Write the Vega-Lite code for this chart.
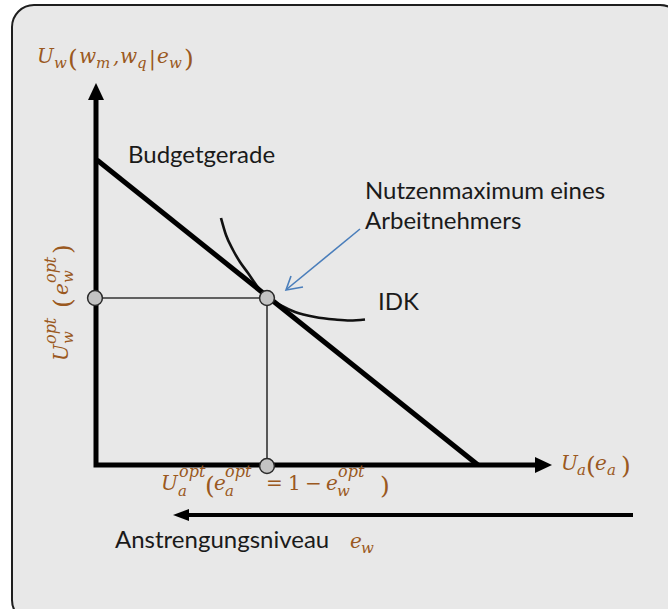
{
  "$schema": "https://vega.github.io/schema/vega-lite/v6.json",
  "width": 668,
  "height": 609,
  "autosize": {"type": "none"},
  "padding": 0,
  "background": "white",
  "config": {"view": {"stroke": null}},
  "datasets": {
    "frame": [{"x": 12, "y": 5, "x2": 682, "y2": 622}],
    "thick": [
      {"id": "axes", "o": 0, "x": 96, "y": 98},
      {"id": "axes", "o": 1, "x": 96, "y": 465},
      {"id": "axes", "o": 2, "x": 538, "y": 465},
      {"id": "budget", "o": 0, "x": 97, "y": 160},
      {"id": "budget", "o": 1, "x": 478, "y": 465}
    ],
    "effort": [
      {"id": "e", "o": 0, "x": 633, "y": 515},
      {"id": "e", "o": 1, "x": 186, "y": 515}
    ],
    "guides": [
      {"id": "g", "o": 0, "x": 96, "y": 298},
      {"id": "g", "o": 1, "x": 267, "y": 298},
      {"id": "g", "o": 2, "x": 267, "y": 465}
    ],
    "idk": [
      {"o": 0, "x": 221, "y": 218},
      {"o": 1, "x": 226, "y": 235},
      {"o": 2, "x": 233, "y": 250},
      {"o": 3, "x": 240, "y": 262},
      {"o": 4, "x": 248, "y": 273},
      {"o": 5, "x": 257, "y": 286},
      {"o": 6, "x": 267, "y": 297},
      {"o": 7, "x": 280, "y": 305},
      {"o": 8, "x": 295, "y": 312},
      {"o": 9, "x": 315, "y": 317},
      {"o": 10, "x": 335, "y": 319.5},
      {"o": 11, "x": 350, "y": 320.5},
      {"o": 12, "x": 365, "y": 319.5}
    ],
    "blue": [
      {"id": "shaft", "o": 0, "x": 360, "y": 229},
      {"id": "shaft", "o": 1, "x": 287, "y": 289},
      {"id": "head", "o": 0, "x": 291, "y": 276},
      {"id": "head", "o": 1, "x": 286, "y": 290},
      {"id": "head", "o": 2, "x": 303, "y": 287}
    ],
    "heads": [
      {"dir": "up", "x": 96, "y": 92},
      {"dir": "right", "x": 543, "y": 465},
      {"dir": "left", "x": 182, "y": 515}
    ],
    "dots": [
      {"x": 95, "y": 298},
      {"x": 267, "y": 298},
      {"x": 267, "y": 466}
    ],
    "labels": [
      {"t": "Budgetgerade", "x": 128, "y": 163},
      {"t": "Nutzenmaximum eines", "x": 365, "y": 199},
      {"t": "Arbeitnehmers", "x": 365, "y": 229},
      {"t": "IDK", "x": 378, "y": 310},
      {"t": "Anstrengungsniveau", "x": 115, "y": 548}
    ],
    "math": [
      {"t": "U", "x": 37, "y": 63, "k": "it"},
      {"t": "w", "x": 54, "y": 68, "k": "sub"},
      {"t": "(", "x": 68, "y": 67, "k": "par"},
      {"t": "w", "x": 79, "y": 63, "k": "it"},
      {"t": "m", "x": 96, "y": 68, "k": "sub"},
      {"t": ",", "x": 113, "y": 63, "k": "it"},
      {"t": "w", "x": 120, "y": 63, "k": "it"},
      {"t": "q", "x": 137, "y": 68, "k": "sub"},
      {"t": "|", "x": 149, "y": 65, "k": "up"},
      {"t": "e", "x": 157, "y": 63, "k": "it"},
      {"t": "w", "x": 169, "y": 68, "k": "sub"},
      {"t": ")", "x": 184, "y": 67, "k": "par"},

      {"t": "U", "x": 561, "y": 470, "k": "it"},
      {"t": "a", "x": 577, "y": 475, "k": "sub"},
      {"t": "(", "x": 586, "y": 474, "k": "par"},
      {"t": "e", "x": 595, "y": 470, "k": "it"},
      {"t": "a", "x": 607, "y": 475, "k": "sub"},
      {"t": ")", "x": 621, "y": 474, "k": "par"},

      {"t": "U", "x": 161, "y": 490, "k": "it"},
      {"t": "a", "x": 178, "y": 496, "k": "sub"},
      {"t": "opt", "x": 179, "y": 477, "k": "sup"},
      {"t": "(", "x": 205, "y": 494, "k": "par"},
      {"t": "e", "x": 214, "y": 490, "k": "it"},
      {"t": "a", "x": 225, "y": 496, "k": "sub"},
      {"t": "opt", "x": 225, "y": 477, "k": "sup"},
      {"t": "=", "x": 266, "y": 490, "k": "up"},
      {"t": "1", "x": 288, "y": 490, "k": "up"},
      {"t": "−", "x": 305, "y": 490, "k": "up"},
      {"t": "e", "x": 326, "y": 490, "k": "it"},
      {"t": "w", "x": 337, "y": 496, "k": "sub"},
      {"t": "opt", "x": 338, "y": 477, "k": "sup"},
      {"t": ")", "x": 380, "y": 494, "k": "par"},

      {"t": "e", "x": 350, "y": 548, "k": "it"},
      {"t": "w", "x": 361, "y": 553, "k": "sub"},

      {"t": "U", "x": 68, "y": 361, "k": "rit"},
      {"t": "w", "x": 73, "y": 344, "k": "rsub"},
      {"t": "opt", "x": 56, "y": 344, "k": "rsup"},
      {"t": "(", "x": 71, "y": 308, "k": "rpar"},
      {"t": "e", "x": 68, "y": 295, "k": "rit"},
      {"t": "w", "x": 73, "y": 283, "k": "rsub"},
      {"t": "opt", "x": 56, "y": 283, "k": "rsup"},
      {"t": ")", "x": 71, "y": 254, "k": "rpar"}
    ]
  },
  "encoding": {
    "x": {"field": "x", "type": "quantitative", "scale": {"domain": [0, 668], "nice": false, "zero": false}, "axis": null},
    "y": {"field": "y", "type": "quantitative", "scale": {"domain": [0, 609], "nice": false, "zero": false, "reverse": true}, "axis": null}
  },
  "layer": [
    {
      "data": {"name": "frame"},
      "mark": {"type": "rect", "fill": "#e8e8e8", "stroke": "#1e1e1e", "strokeWidth": 2, "cornerRadius": 22},
      "encoding": {"x2": {"field": "x2"}, "y2": {"field": "y2"}}
    },
    {
      "data": {"name": "guides"},
      "mark": {"type": "line", "color": "#333333", "strokeWidth": 1.6, "strokeJoin": "miter"},
      "encoding": {"detail": {"field": "id"}, "order": {"field": "o"}}
    },
    {
      "data": {"name": "idk"},
      "mark": {"type": "line", "color": "#111111", "strokeWidth": 2.6, "interpolate": "monotone"},
      "encoding": {"order": {"field": "o"}}
    },
    {
      "data": {"name": "thick"},
      "mark": {"type": "line", "color": "#000000", "strokeWidth": 5, "strokeJoin": "miter", "strokeCap": "butt"},
      "encoding": {"detail": {"field": "id"}, "order": {"field": "o"}}
    },
    {
      "data": {"name": "effort"},
      "mark": {"type": "line", "color": "#000000", "strokeWidth": 4, "strokeCap": "butt"},
      "encoding": {"detail": {"field": "id"}, "order": {"field": "o"}}
    },
    {
      "data": {"name": "blue"},
      "mark": {"type": "line", "color": "#4a7ebb", "strokeWidth": 1.6, "strokeJoin": "miter"},
      "encoding": {"detail": {"field": "id"}, "order": {"field": "o"}}
    },
    {
      "data": {"name": "heads"},
      "mark": {"type": "point", "filled": true, "size": 400, "color": "#000000", "opacity": 1},
      "encoding": {
        "shape": {
          "field": "dir",
          "type": "nominal",
          "scale": {
            "domain": ["up", "right", "left"],
            "range": ["M0,-0.9L0.8,0.8L-0.8,0.8Z", "M0.9,0L-0.8,0.8L-0.8,-0.8Z", "M-0.9,0L0.7,-0.6L0.7,0.6Z"]
          },
          "legend": null
        }
      }
    },
    {
      "data": {"name": "dots"},
      "mark": {"type": "point", "shape": "circle", "filled": true, "size": 220, "fill": "#c3c3c3", "stroke": "#2a2a2a", "strokeWidth": 1.5, "opacity": 1}
    },
    {
      "data": {"name": "labels"},
      "mark": {"type": "text", "align": "left", "baseline": "alphabetic", "font": "Lato", "fontSize": 24, "color": "#1a1a1a"},
      "encoding": {"text": {"field": "t"}}
    },
    {
      "data": {"name": "math"},
      "transform": [{"filter": "datum.k === 'it'"}],
      "mark": {"type": "text", "align": "left", "baseline": "alphabetic", "font": "DejaVu Serif", "fontStyle": "italic", "fontSize": 20, "color": "#9a5820"},
      "encoding": {"text": {"field": "t"}}
    },
    {
      "data": {"name": "math"},
      "transform": [{"filter": "datum.k === 'sub'"}],
      "mark": {"type": "text", "align": "left", "baseline": "alphabetic", "font": "DejaVu Serif", "fontStyle": "italic", "fontSize": 15, "color": "#9a5820"},
      "encoding": {"text": {"field": "t"}}
    },
    {
      "data": {"name": "math"},
      "transform": [{"filter": "datum.k === 'sup'"}],
      "mark": {"type": "text", "align": "left", "baseline": "alphabetic", "font": "DejaVu Serif", "fontStyle": "italic", "fontSize": 16, "color": "#9a5820"},
      "encoding": {"text": {"field": "t"}}
    },
    {
      "data": {"name": "math"},
      "transform": [{"filter": "datum.k === 'up'"}],
      "mark": {"type": "text", "align": "left", "baseline": "alphabetic", "font": "DejaVu Serif", "fontSize": 20, "color": "#9a5820"},
      "encoding": {"text": {"field": "t"}}
    },
    {
      "data": {"name": "math"},
      "transform": [{"filter": "datum.k === 'par'"}],
      "mark": {"type": "text", "align": "left", "baseline": "alphabetic", "font": "DejaVu Serif", "fontSize": 25, "color": "#9a5820"},
      "encoding": {"text": {"field": "t"}}
    },
    {
      "data": {"name": "math"},
      "transform": [{"filter": "datum.k === 'rit'"}],
      "mark": {"type": "text", "align": "left", "baseline": "alphabetic", "angle": 270, "font": "DejaVu Serif", "fontStyle": "italic", "fontSize": 20, "color": "#9a5820"},
      "encoding": {"text": {"field": "t"}}
    },
    {
      "data": {"name": "math"},
      "transform": [{"filter": "datum.k === 'rsub'"}],
      "mark": {"type": "text", "align": "left", "baseline": "alphabetic", "angle": 270, "font": "DejaVu Serif", "fontStyle": "italic", "fontSize": 15, "color": "#9a5820"},
      "encoding": {"text": {"field": "t"}}
    },
    {
      "data": {"name": "math"},
      "transform": [{"filter": "datum.k === 'rsup'"}],
      "mark": {"type": "text", "align": "left", "baseline": "alphabetic", "angle": 270, "font": "DejaVu Serif", "fontStyle": "italic", "fontSize": 16, "color": "#9a5820"},
      "encoding": {"text": {"field": "t"}}
    },
    {
      "data": {"name": "math"},
      "transform": [{"filter": "datum.k === 'rpar'"}],
      "mark": {"type": "text", "align": "left", "baseline": "alphabetic", "angle": 270, "font": "DejaVu Serif", "fontSize": 25, "color": "#9a5820"},
      "encoding": {"text": {"field": "t"}}
    }
  ]
}
